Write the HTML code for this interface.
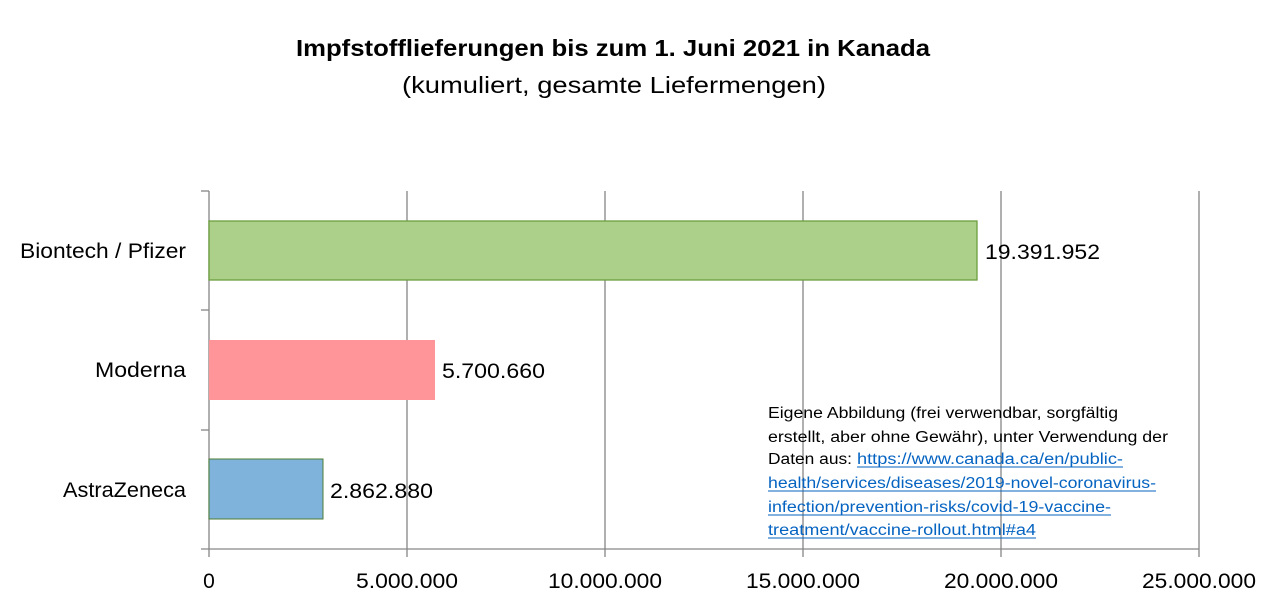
<!DOCTYPE html>
<html><head><meta charset="utf-8"><style>html,body{margin:0;padding:0;background:#fff}svg{display:block}</style></head>
<body>
<svg width="1270" height="613" viewBox="0 0 1270 613" xmlns="http://www.w3.org/2000/svg" font-family="'Liberation Sans', sans-serif">
<rect width="1270" height="613" fill="#fff"/>
<text x="613" y="56" text-anchor="middle" font-size="23" font-weight="bold" textLength="634" lengthAdjust="spacingAndGlyphs">Impfstofflieferungen bis zum 1. Juni 2021 in Kanada</text>
<text x="614" y="93" text-anchor="middle" font-size="23" textLength="424" lengthAdjust="spacingAndGlyphs">(kumuliert, gesamte Liefermengen)</text>
<g stroke="#868686" stroke-width="1.3">
<line x1="407" y1="191" x2="407" y2="557"/>
<line x1="605" y1="191" x2="605" y2="557"/>
<line x1="803" y1="191" x2="803" y2="557"/>
<line x1="1001" y1="191" x2="1001" y2="557"/>
<line x1="1199" y1="191" x2="1199" y2="557"/>
<line x1="209" y1="191" x2="209" y2="557"/>
<line x1="201" y1="549" x2="1199" y2="549"/>
<line x1="201" y1="191" x2="209" y2="191"/>
<line x1="201" y1="310" x2="209" y2="310"/>
<line x1="201" y1="430" x2="209" y2="430"/>
</g>
<rect x="209" y="221" width="768" height="59" fill="#acd08a" stroke="#6c9e3e" stroke-width="1.3"/>
<rect x="209" y="340" width="226" height="60" fill="#ff9599"/>
<rect x="209" y="459" width="114" height="60" fill="#80b3db" stroke="#4c7d36" stroke-width="1"/>
<g font-size="21" fill="#000">
<text x="186" y="258" text-anchor="end" textLength="166" lengthAdjust="spacingAndGlyphs">Biontech / Pfizer</text>
<text x="186" y="377" text-anchor="end" textLength="91" lengthAdjust="spacingAndGlyphs">Moderna</text>
<text x="186" y="497" text-anchor="end" textLength="123" lengthAdjust="spacingAndGlyphs">AstraZeneca</text>
<text x="985" y="259" textLength="115" lengthAdjust="spacingAndGlyphs">19.391.952</text>
<text x="442" y="378" textLength="103" lengthAdjust="spacingAndGlyphs">5.700.660</text>
<text x="330" y="498" textLength="103" lengthAdjust="spacingAndGlyphs">2.862.880</text>
<text x="209" y="588" text-anchor="middle">0</text>
<text x="407" y="588" text-anchor="middle" textLength="102" lengthAdjust="spacingAndGlyphs">5.000.000</text>
<text x="605" y="588" text-anchor="middle" textLength="114" lengthAdjust="spacingAndGlyphs">10.000.000</text>
<text x="803" y="588" text-anchor="middle" textLength="114" lengthAdjust="spacingAndGlyphs">15.000.000</text>
<text x="1001" y="588" text-anchor="middle" textLength="114" lengthAdjust="spacingAndGlyphs">20.000.000</text>
<text x="1199" y="588" text-anchor="middle" textLength="114" lengthAdjust="spacingAndGlyphs">25.000.000</text>
</g>
<g font-size="15.5">
<text x="768" y="418" textLength="350" lengthAdjust="spacingAndGlyphs">Eigene Abbildung (frei verwendbar, sorgfältig</text>
<text x="768" y="442" textLength="400" lengthAdjust="spacingAndGlyphs">erstellt, aber ohne Gewähr), unter Verwendung der</text>
<text x="768" y="464" textLength="84" lengthAdjust="spacingAndGlyphs">Daten aus:</text>
<g fill="#0563c1">
<text x="857" y="464" textLength="266" lengthAdjust="spacingAndGlyphs">https://www.canada.ca/en/public-</text>
<text x="768" y="488" textLength="388" lengthAdjust="spacingAndGlyphs">health/services/diseases/2019-novel-coronavirus-</text>
<text x="768" y="512" textLength="343" lengthAdjust="spacingAndGlyphs">infection/prevention-risks/covid-19-vaccine-</text>
<text x="768" y="535" textLength="268" lengthAdjust="spacingAndGlyphs">treatment/vaccine-rollout.html#a4</text>
</g>
<g stroke="#0563c1" stroke-width="1">
<line x1="857" y1="467" x2="1123" y2="467"/>
<line x1="768" y1="491" x2="1156" y2="491"/>
<line x1="768" y1="515" x2="1111" y2="515"/>
<line x1="768" y1="538" x2="1036" y2="538"/>
</g>
</g>
</svg>
</body></html>
